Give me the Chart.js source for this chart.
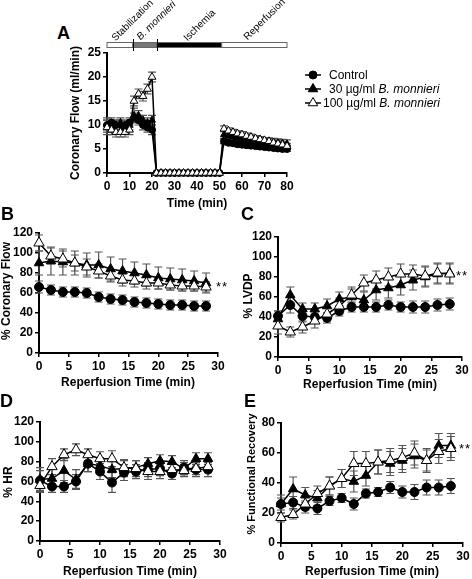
<!DOCTYPE html>
<html>
<head>
  <title>B. monnieri - coronary flow and recovery</title>
  <script src="https://cdn.jsdelivr.net/npm/chart.js"></script>
  <style>
    body { margin: 0; background: #fff; font-family: Arial, 'Liberation Sans', sans-serif; }
    #fig { position: relative; width: 472px; height: 579px; overflow: hidden; background: #fff; }
    canvas { position: absolute; }
    .t { position: absolute; color: #000; white-space: nowrap; line-height: 1; }
    .letter { font-size: 18px; font-weight: bold; }
    .ax { font-size: 12px; font-weight: bold; }
    .yt { transform: translate(-50%, -50%) rotate(-90deg); }
    .xt { transform: translate(-50%, -50%); }
    .phase { font-size: 10px; height: 10px; transform-origin: 0 100%; transform: rotate(-45deg); }
    .leg { font-size: 12px; transform: translateY(-50%); }
    .star { font-size: 13px; letter-spacing: 1px; transform: translate(-50%, -50%); }
  </style>
</head>
<body>
<div id="fig">
  <canvas id="chartA"></canvas>
  <canvas id="chartB"></canvas>
  <canvas id="chartC"></canvas>
  <canvas id="chartD"></canvas>
  <canvas id="chartE"></canvas>

  <div class="t letter" style="left:57px; top:24px;">A</div>
  <div class="t letter" style="left:1px; top:205px;">B</div>
  <div class="t letter" style="left:241px; top:205px;">C</div>
  <div class="t letter" style="left:0px; top:392px;">D</div>
  <div class="t letter" style="left:244px; top:392px;">E</div>

  <div class="t phase" style="left:117px; top:33px;">Stabilization</div>
  <div class="t phase" style="left:142px; top:32px;"><i>B. monnieri</i></div>
  <div class="t phase" style="left:189px; top:33px;">Ischemia</div>
  <div class="t phase" style="left:249px; top:32px;">Reperfusion</div>

  <div class="t leg" style="left:329px; top:75px;">Control</div>
  <div class="t leg" style="left:329px; top:89px;">30 µg/ml <i>B. monnieri</i></div>
  <div class="t leg" style="left:323px; top:103px;">100 µg/ml <i>B. monnieri</i></div>

  <div class="t ax yt" style="left:75px; top:113px;">Coronary Flow (ml/min)</div>
  <div class="t ax xt" style="left:197px; top:203px;">Time (min)</div>
  <div class="t ax yt" style="left:6px; top:291px;">% Coronary Flow</div>
  <div class="t ax xt" style="left:128px; top:382px;">Reperfusion Time (min)</div>
  <div class="t ax yt" style="left:248px; top:296px;">% LVDP</div>
  <div class="t ax xt" style="left:370px; top:384px;">Reperfusion Time (min)</div>
  <div class="t ax yt" style="left:8px; top:482px;">% HR</div>
  <div class="t ax xt" style="left:130px; top:571px;">Reperfusion Time (min)</div>
  <div class="t ax yt" style="left:251px; top:474px; font-size:11px;">% Functional Recovery</div>
  <div class="t ax xt" style="left:372px; top:571px;">Reperfusion Time (min)</div>

  <div class="t star" style="left:222px; top:286px;">**</div>
  <div class="t star" style="left:462px; top:275px;">**</div>
  <div class="t star" style="left:465px; top:448px;">**</div>
</div>

<script>
  // panel A: whole protocol, one point every 2 min
  const protocolMin = [0, 2, 4, 6, 8, 10, 12, 14, 16, 18, 20, 22, 24, 26, 28, 30, 32, 34, 36, 38, 40,
    42, 44, 46, 48, 50, 52, 54, 56, 58, 60, 62, 64, 66, 68, 70, 72, 74, 76, 78, 80];
  const flowCtrlA = [10, 10.5, 10, 10, 10, 10.5, 11.5, 11, 10, 9.5, 9,
    0, 0, 0, 0, 0, 0, 0, 0, 0, 0, 0, 0, 0, 0, 0,
    6.6, 6.3, 6.2, 6.0, 5.9, 5.8, 5.7, 5.6, 5.5, 5.4, 5.3, 5.2, 5.1, 5.0, 5.0];
  const flow30A = [10, 9.5, 10, 10.5, 9.5, 10, 12, 12, 11, 10.5, 11,
    0, 0, 0, 0, 0, 0, 0, 0, 0, 0, 0, 0, 0, 0, 0,
    8.0, 7.7, 7.5, 7.3, 7.2, 7.0, 6.9, 6.8, 6.7, 6.6, 6.5, 6.4, 6.3, 6.2, 6.1];
  const flow100A = [9.5, 9, 8.5, 8.5, 8.5, 9, 15, 16.5, 16, 17.5, 20,
    0, 0, 0, 0, 0, 0, 0, 0, 0, 0, 0, 0, 0, 0, 0,
    9.2, 8.8, 8.5, 8.2, 8.0, 7.7, 7.5, 7.2, 7.0, 6.8, 6.6, 6.3, 6.1, 5.9, 5.6];
  const flowCtrlAErr = [1.5, 1, 1, 1, 1, 1, 1, 1, 1, 1, 1,
    0, 0, 0, 0, 0, 0, 0, 0, 0, 0, 0, 0, 0, 0, 0,
    0.5, 0.5, 0.5, 0.5, 0.5, 0.5, 0.5, 0.5, 0.5, 0.5, 0.5, 0.5, 0.5, 0.5, 0.5];
  const flow30AErr = [1, 1, 1, 1, 1, 1, 1.5, 1, 1, 1, 1,
    0, 0, 0, 0, 0, 0, 0, 0, 0, 0, 0, 0, 0, 0, 0,
    0.8, 0.8, 0.8, 0.8, 0.8, 0.8, 0.8, 0.8, 0.8, 0.8, 0.8, 0.8, 0.8, 0.8, 0.8];
  const flow100AErr = [1.5, 1, 1, 1, 1, 1, 1, 1, 1, 1, 1,
    0, 0, 0, 0, 0, 0, 0, 0, 0, 0, 0, 0, 0, 0, 0,
    0.6, 0.6, 0.6, 0.6, 0.6, 0.6, 0.6, 0.6, 0.6, 0.6, 0.6, 0.6, 0.6, 0.6, 0.6];

  const phaseStart = [0, 11.5, 22, 51];
  const phaseEnd = [11.5, 22, 51, 80];
  const phaseFill = ['#fff', '#777', '#000', '#fff'];

  // panels B-E: reperfusion, one point every 2 min
  const reperfMin = [0, 2, 4, 6, 8, 10, 12, 14, 16, 18, 20, 22, 24, 26, 28];

  const flowCtrl = [66, 63, 61, 61, 60, 56, 54, 53, 51, 50, 49, 48, 48, 47, 47];
  const flow30 = [90, 92, 91, 90, 88, 88, 84, 82, 80, 78, 75, 74, 73, 72, 70];
  const flow100 = [110, 97, 94, 90, 86, 82, 77, 73, 72, 70, 70, 68, 67, 67, 66];
  const flowCtrlErr = [6, 5, 5, 5, 5, 5, 5, 5, 5, 5, 5, 5, 5, 5, 5];
  const flow30Err = [12, 14, 13, 12, 12, 13, 12, 12, 11, 11, 11, 11, 11, 10, 10];
  const flow100Err = [8, 8, 8, 8, 8, 7, 6, 6, 6, 6, 6, 5, 5, 5, 5];

  const lvdpCtrl = [41, 52, 41, 40, 39, 46, 50, 50, 50, 52, 50, 50, 50, 52, 53];
  const lvdp30 = [38, 62, 48, 48, 51, 58, 60, 57, 67, 69, 72, 77, 80, 83, 84];
  const lvdp100 = [31, 25, 30, 36, 43, 51, 62, 74, 77, 80, 83, 83, 81, 84, 83];
  const lvdpCtrlErr = [5, 8, 6, 5, 5, 5, 5, 5, 5, 5, 5, 6, 6, 6, 6];
  const lvdp30Err = [8, 8, 6, 6, 7, 7, 8, 8, 10, 10, 10, 10, 10, 10, 10];
  const lvdp100Err = [8, 5, 6, 7, 7, 8, 8, 8, 9, 9, 10, 9, 10, 10, 10];

  const hrCtrl = [61, 55, 55, 60, 78, 70, 59, 69, 70, 72, 73, 68, 74, 72, 72];
  const hr30 = [62, 63, 71, 62, 78, 76, 72, 73, 74, 78, 81, 80, 73, 83, 83];
  const hr100 = [56, 75, 87, 92, 87, 83, 83, 74, 73, 70, 70, 72, 71, 73, 75];
  const hrCtrlErr = [10, 6, 6, 7, 8, 8, 10, 8, 7, 7, 7, 6, 7, 7, 7];
  const hr30Err = [12, 10, 12, 10, 8, 8, 8, 8, 7, 6, 6, 6, 6, 6, 6];
  const hr100Err = [7, 8, 6, 6, 6, 7, 8, 8, 8, 8, 7, 7, 6, 6, 6];

  const recCtrl = [26, 27, 24, 23, 28, 30, 26, 33, 34, 37, 34, 34, 37, 37, 38];
  const rec30 = [26, 36, 32, 30, 38, 43, 41, 45, 54, 53, 55, 58, 55, 65, 65];
  const rec100 = [17, 19, 26, 33, 38, 43, 53, 53, 54, 55, 57, 60, 55, 61, 63];
  const recCtrlErr = [4, 4, 4, 4, 3, 3, 4, 3, 3, 4, 4, 5, 5, 5, 5];
  const rec30Err = [6, 8, 5, 5, 6, 6, 7, 7, 8, 8, 8, 8, 8, 8, 8];
  const rec100Err = [3, 3, 4, 5, 6, 6, 8, 8, 8, 8, 8, 8, 7, 8, 8];

  Chart.defaults.font.family = "Arial, 'Liberation Sans', sans-serif";
  Chart.defaults.color = '#000';

  // whiskers (mean +/- SEM) under the markers
  const errorBars = {
    id: 'errorBars',
    beforeDatasetsDraw(chart) {
      const ctx = chart.ctx, ys = chart.scales.y;
      chart.data.datasets.forEach((ds, i) => {
        if (!ds.errs) return;
        const meta = chart.getDatasetMeta(i);
        ctx.save();
        ctx.strokeStyle = '#555';
        ctx.lineWidth = 1.2;
        meta.data.forEach((pt, j) => {
          const e = ds.errs[j];
          if (!e) return;
          const v = ds.data[j].y;
          const top = ys.getPixelForValue(v + e), bot = ys.getPixelForValue(v - e);
          ctx.beginPath();
          ctx.moveTo(pt.x, top); ctx.lineTo(pt.x, bot);
          ctx.moveTo(pt.x - ds.capW, top); ctx.lineTo(pt.x + ds.capW, top);
          ctx.moveTo(pt.x - ds.capW, bot); ctx.lineTo(pt.x + ds.capW, bot);
          ctx.stroke();
        });
        ctx.restore();
      });
    }
  };

  // protocol bar above panel A
  const phaseBar = {
    id: 'phaseBar',
    afterDraw(chart) {
      const ctx = chart.ctx, xs = chart.scales.x;
      const y = chart.chartArea.top - 8;
      ctx.save();
      ctx.lineWidth = 1;
      phaseStart.forEach((s, i) => {
        const x0 = xs.getPixelForValue(s), x1 = xs.getPixelForValue(phaseEnd[i]);
        ctx.fillStyle = phaseFill[i];
        ctx.fillRect(x0, y - 2.5, x1 - x0, 5);
        ctx.strokeStyle = '#666';
        ctx.strokeRect(x0, y - 2.5, x1 - x0, 5);
      });
      ctx.strokeStyle = '#000';
      [phaseStart[1], phaseStart[2]].forEach(s => {
        const x = Math.round(xs.getPixelForValue(s)) + 0.5;
        ctx.beginPath(); ctx.moveTo(x, y - 6); ctx.lineTo(x, y + 6); ctx.stroke();
      });
      ctx.restore();
    }
  };

  // legend samples next to panel A (page coordinates)
  const legendRows = [{ ds: 2, y: 75 }, { ds: 1, y: 89 }, { ds: 0, y: 103 }];
  const legendMarks = {
    id: 'legendMarks',
    afterDraw(chart) {
      const ctx = chart.ctx;
      const ox = chart.canvas.offsetLeft, oy = chart.canvas.offsetTop;
      legendRows.forEach(row => {
        const ds = chart.data.datasets[row.ds];
        const y = row.y - oy, x = 313 - ox;
        ctx.save();
        ctx.strokeStyle = '#000'; ctx.lineWidth = 1.5;
        ctx.beginPath(); ctx.moveTo(x - 8, y); ctx.lineTo(x + 8, y); ctx.stroke();
        ctx.fillStyle = ds.pointBackgroundColor;
        ctx.lineWidth = 1;
        Chart.helpers.drawPoint(ctx, { pointStyle: ds.pointStyle, radius: ds.pointStyle === 'circle' ? 4 : 5.5, rotation: 0, borderWidth: 1 }, x, y);
        ctx.restore();
      });
    }
  };

  function axis(min, max, step, fit) {
    return {
      type: 'linear', min: min, max: max,
      ticks: { stepSize: step, padding: 2, color: '#000', maxRotation: 0, autoSkip: false,
        font: { size: 12, weight: 'bold' } },
      grid: { drawOnChartArea: false, tickLength: 4, color: '#000', lineWidth: 1.5 },
      border: { display: true, color: '#000', width: 2 },
      afterFit: fit
    };
  }

  function series(xs, ys, errs, kind, r, capW) {
    const open = kind === 'open';
    return {
      data: xs.map((x, i) => ({ x: x, y: ys[i] })),
      errs: errs, capW: capW,
      borderColor: '#000', borderWidth: 1.5, tension: 0, fill: false, clip: false,
      pointStyle: kind === 'circle' ? 'circle' : 'triangle',
      pointRadius: r,
      pointBackgroundColor: open ? '#fff' : '#000',
      pointBorderColor: '#000', pointBorderWidth: 1
    };
  }

  function makeChart(id, box, m, xr, yr, sets, extra) {
    const cv = document.getElementById(id);
    cv.width = box.r - box.l + m.l + m.r;
    cv.height = box.b - box.t + m.t + m.b;
    cv.style.left = (box.l - m.l) + 'px';
    cv.style.top = (box.t - m.t) + 'px';
    return new Chart(cv, {
      type: 'line',
      data: { datasets: sets },
      options: {
        responsive: false,
        animation: false,
        devicePixelRatio: 1,
        layout: { padding: { top: m.t, right: m.r, left: 0, bottom: 0 } },
        scales: {
          x: axis(xr[0], xr[1], xr[2], s => { s.height = m.b; }),
          y: axis(yr[0], yr[1], yr[2], s => { s.width = m.l; })
        },
        plugins: { legend: { display: false }, tooltip: { enabled: false } }
      },
      plugins: [errorBars].concat(extra || [])
    });
  }

  function threeSets(xs, c, ce, a, ae, b, be, rc, rt) {
    // 100 ug/ml first so the open triangles sit on top
    return [
      series(xs, b, be, 'open', rt, 4),
      series(xs, a, ae, 'filled', rt - 0.5, 4),
      series(xs, c, ce, 'circle', rc, 4)
    ];
  }

  makeChart('chartA', { l: 107, t: 53, r: 287, b: 173 }, { l: 36, t: 20, r: 43, b: 24 },
    [0, 80, 10], [0, 25, 5],
    threeSets(protocolMin, flowCtrlA, flowCtrlAErr, flow30A, flow30AErr, flow100A, flow100AErr, 3.5, 4.5),
    [phaseBar, legendMarks]);

  makeChart('chartB', { l: 39, t: 233, r: 218, b: 353 }, { l: 36, t: 14, r: 14, b: 24 },
    [0, 30, 5], [0, 120, 20],
    threeSets(reperfMin, flowCtrl, flowCtrlErr, flow30, flow30Err, flow100, flow100Err, 4.5, 6));

  makeChart('chartC', { l: 278, t: 237, r: 462, b: 357 }, { l: 36, t: 14, r: 10, b: 24 },
    [0, 30, 5], [0, 120, 20],
    threeSets(reperfMin, lvdpCtrl, lvdpCtrlErr, lvdp30, lvdp30Err, lvdp100, lvdp100Err, 4.5, 6));

  makeChart('chartD', { l: 40, t: 422, r: 220, b: 541 }, { l: 36, t: 14, r: 14, b: 24 },
    [0, 30, 5], [0, 120, 20],
    threeSets(reperfMin, hrCtrl, hrCtrlErr, hr30, hr30Err, hr100, hr100Err, 4.5, 6));

  makeChart('chartE', { l: 281, t: 423, r: 463, b: 543 }, { l: 36, t: 14, r: 9, b: 24 },
    [0, 30, 5], [0, 80, 20],
    threeSets(reperfMin, recCtrl, recCtrlErr, rec30, rec30Err, rec100, rec100Err, 4.5, 6));
</script>
</body>
</html>
